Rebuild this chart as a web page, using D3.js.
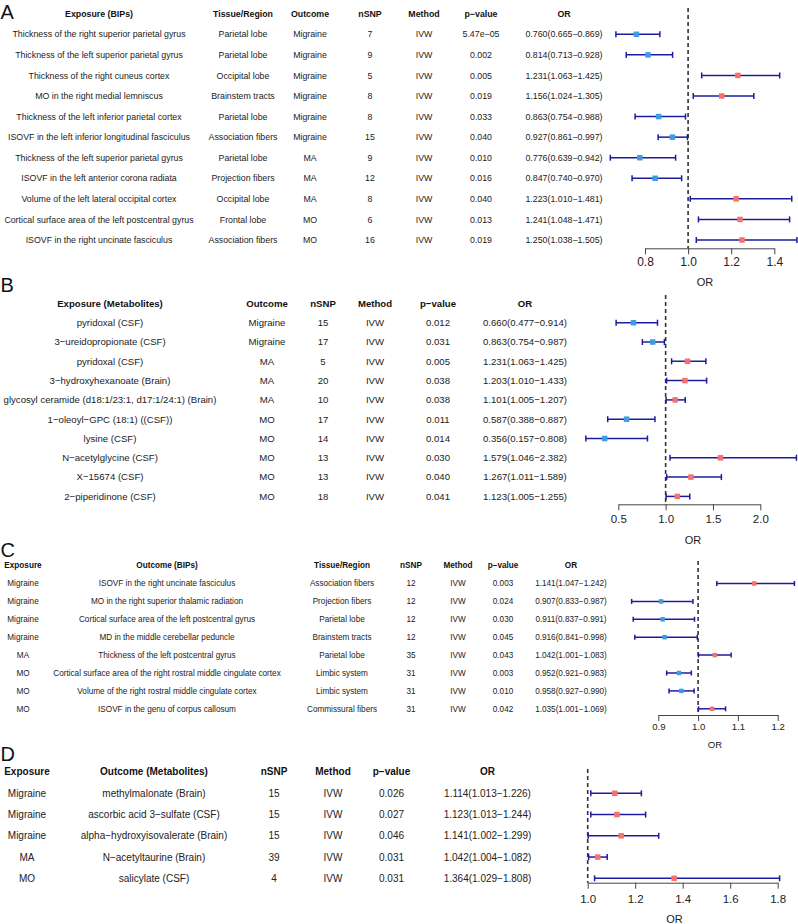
<!DOCTYPE html>
<html>
<head>
<meta charset="utf-8">
<script src="https://cdn.jsdelivr.net/npm/d3@7"></script>
<style>
  html, body { margin: 0; padding: 0; background: #fff; }
  svg { display: block; }
</style>
</head>
<body>
<svg id="chart" width="798" height="924"></svg>
<script>
// ---- Panel A: BIPs -> migraine ----
const aExposure = [
  "Thickness of the right superior parietal gyrus",
  "Thickness of the left superior parietal gyrus",
  "Thickness of the right cuneus cortex",
  "MO in the right medial lemniscus",
  "Thickness of the left inferior parietal cortex",
  "ISOVF in the left inferior longitudinal fasciculus",
  "Thickness of the left superior parietal gyrus",
  "ISOVF in the left anterior corona radiata",
  "Volume of the left lateral occipital cortex",
  "Cortical surface area of the left postcentral gyrus",
  "ISOVF in the right uncinate fasciculus"
];
const aTissue = ["Parietal lobe", "Parietal lobe", "Occipital lobe", "Brainstem tracts", "Parietal lobe",
  "Association fibers", "Parietal lobe", "Projection fibers", "Occipital lobe", "Frontal lobe", "Association fibers"];
const aOutcome = ["Migraine", "Migraine", "Migraine", "Migraine", "Migraine", "Migraine", "MA", "MA", "MA", "MO", "MO"];
const aNsnp = [7, 9, 5, 8, 8, 15, 9, 12, 8, 6, 16];
const aPval = ["5.47e−05", "0.002", "0.005", "0.019", "0.033", "0.040", "0.010", "0.016", "0.040", "0.013", "0.019"];
const aOR = [0.760, 0.814, 1.231, 1.156, 0.863, 0.927, 0.776, 0.847, 1.223, 1.241, 1.250];
const aLo = [0.665, 0.713, 1.063, 1.024, 0.754, 0.861, 0.639, 0.740, 1.010, 1.048, 1.038];
const aHi = [0.869, 0.928, 1.425, 1.305, 0.988, 0.997, 0.942, 0.970, 1.481, 1.471, 1.505];
const aTicks = [0.8, 1.0, 1.2, 1.4];

// ---- Panel B: metabolites -> migraine ----
const bExposure = [
  "pyridoxal (CSF)",
  "3−ureidopropionate (CSF)",
  "pyridoxal (CSF)",
  "3−hydroxyhexanoate (Brain)",
  "glycosyl ceramide (d18:1/23:1, d17:1/24:1) (Brain)",
  "1−oleoyl−GPC (18:1) ((CSF))",
  "lysine (CSF)",
  "N−acetylglycine (CSF)",
  "X−15674 (CSF)",
  "2−piperidinone (CSF)"
];
const bOutcome = ["Migraine", "Migraine", "MA", "MA", "MA", "MO", "MO", "MO", "MO", "MO"];
const bNsnp = [15, 17, 5, 20, 10, 17, 14, 13, 13, 18];
const bPval = ["0.012", "0.031", "0.005", "0.038", "0.038", "0.011", "0.014", "0.030", "0.040", "0.041"];
const bOR = [0.660, 0.863, 1.231, 1.203, 1.101, 0.587, 0.356, 1.579, 1.267, 1.123];
const bLo = [0.477, 0.754, 1.063, 1.010, 1.005, 0.388, 0.157, 1.046, 1.011, 1.005];
const bHi = [0.914, 0.987, 1.425, 1.433, 1.207, 0.887, 0.808, 2.382, 1.589, 1.255];
const bTicks = [0.5, 1.0, 1.5, 2.0];

// ---- Panel C: migraine -> BIPs ----
const cExposure = ["Migraine", "Migraine", "Migraine", "Migraine", "MA", "MO", "MO", "MO"];
const cOutcome = [
  "ISOVF in the right uncinate fasciculus",
  "MO in the right superior thalamic radiation",
  "Cortical surface area of the left postcentral gyrus",
  "MD in the middle cerebellar peduncle",
  "Thickness of the left postcentral gyrus",
  "Cortical surface area of the right rostral middle cingulate cortex",
  "Volume of the right rostral middle cingulate cortex",
  "ISOVF in the genu of corpus callosum"
];
const cTissue = ["Association fibers", "Projection fibers", "Parietal lobe", "Brainstem tracts",
  "Parietal lobe", "Limbic system", "Limbic system", "Commissural fibers"];
const cNsnp = [12, 12, 12, 12, 35, 31, 31, 31];
const cPval = ["0.003", "0.024", "0.030", "0.045", "0.043", "0.003", "0.010", "0.042"];
const cOR = [1.141, 0.907, 0.911, 0.916, 1.042, 0.952, 0.958, 1.035];
const cLo = [1.047, 0.833, 0.837, 0.841, 1.001, 0.921, 0.927, 1.001];
const cHi = [1.242, 0.987, 0.991, 0.998, 1.083, 0.983, 0.990, 1.069];
const cTicks = [0.9, 1.0, 1.1, 1.2];

// ---- Panel D: migraine -> metabolites ----
const dExposure = ["Migraine", "Migraine", "Migraine", "MA", "MO"];
const dOutcome = [
  "methylmalonate (Brain)",
  "ascorbic acid 3−sulfate (CSF)",
  "alpha−hydroxyisovalerate (Brain)",
  "N−acetyltaurine (Brain)",
  "salicylate (CSF)"
];
const dNsnp = [15, 15, 15, 39, 4];
const dPval = ["0.026", "0.027", "0.046", "0.031", "0.031"];
const dOR = [1.114, 1.123, 1.141, 1.042, 1.364];
const dLo = [1.013, 1.013, 1.002, 1.004, 1.029];
const dHi = [1.226, 1.244, 1.299, 1.082, 1.808];
const dTicks = [1.0, 1.2, 1.4, 1.6, 1.8];

const FONT = "'Liberation Sans', Arial, Helvetica, sans-serif";
const BLUE = "#3f9ce0";
const RED = "#f7716c";
const BAR = "#1c1ca0";

const svg = d3.select("#chart");

const orText = (or, lo, hi) => or.map((v, i) =>
  `${v.toFixed(3)}(${lo[i].toFixed(3)}−${hi[i].toFixed(3)})`);
const ivw = (n) => d3.range(n).map(() => "IVW");

/**
 * Draw one forest panel: table columns + CI bars + axis
 */
const drawPanel = (p) => {
  const g = svg.append("g").attr("font-family", FONT);
  const rowY = (i) => p.row0 + i * p.step;

  // panel letter
  g.append("text")
    .attr("x", 0.5)
    .attr("y", p.letterY)
    .attr("font-size", 20)
    .attr("fill", "#111")
    .text(p.letter);

  // table columns
  p.columns.forEach((col) => {
    g.append("text")
      .attr("x", col.x)
      .attr("y", p.header)
      .attr("dy", "0.35em")
      .attr("text-anchor", "middle")
      .attr("font-size", p.fs)
      .attr("font-weight", "bold")
      .attr("fill", "#111")
      .text(col.title);

    g.selectAll(null)
      .data(col.values)
      .join("text")
      .attr("x", col.x)
      .attr("y", (d, i) => rowY(i))
      .attr("dy", "0.35em")
      .attr("text-anchor", "middle")
      .attr("font-size", p.fs)
      .attr("fill", "#222")
      .text((d) => d);
  });

  // forest
  const x = d3.scaleLinear().domain(p.domain).range(p.range);

  g.append("line")
    .attr("x1", x(1)).attr("x2", x(1))
    .attr("y1", p.dashTop).attr("y2", p.axisY)
    .attr("stroke", "#333")
    .attr("stroke-width", 1.6)
    .attr("stroke-dasharray", "4,3");

  const rows = g.selectAll("g.ci")
    .data(p.or)
    .join("g")
    .attr("class", "ci")
    .attr("transform", (d, i) => `translate(0,${rowY(i)})`);

  rows.append("line")
    .attr("x1", (d, i) => x(p.lo[i]))
    .attr("x2", (d, i) => x(p.hi[i]))
    .attr("stroke", BAR)
    .attr("stroke-width", 1.5);

  ["lo", "hi"].forEach((k) => {
    rows.append("line")
      .attr("x1", (d, i) => x(p[k][i]))
      .attr("x2", (d, i) => x(p[k][i]))
      .attr("y1", -p.cap).attr("y2", p.cap)
      .attr("stroke", BAR)
      .attr("stroke-width", 1.5);
  });

  rows.append("rect")
    .attr("x", (d) => x(d) - p.box / 2)
    .attr("y", -p.box / 2)
    .attr("width", p.box)
    .attr("height", p.box)
    .attr("fill", (d) => (d < 1 ? BLUE : RED));

  // axis
  const axis = g.append("g")
    .attr("transform", `translate(0,${p.axisY})`)
    .call(d3.axisBottom(x)
      .tickValues(p.ticks)
      .tickFormat(d3.format(".1f"))
      .tickSize(6)
      .tickSizeOuter(0)
      .tickPadding(p.tickPad));

  axis.select(".domain").attr("stroke", "#444");
  axis.selectAll(".tick line").attr("stroke", "#444");
  axis.selectAll(".tick text")
    .attr("font-family", FONT)
    .attr("font-size", p.tickFs)
    .attr("fill", "#222");

  g.append("text")
    .attr("x", p.xlabX)
    .attr("y", p.xlabY)
    .attr("dy", "0.35em")
    .attr("text-anchor", "middle")
    .attr("font-size", p.xlabFs)
    .attr("fill", "#222")
    .text("OR");
};

drawPanel({
  letter: "A", letterY: 18.5, fs: 8.8,
  header: 14, row0: 34.3, step: 20.57,
  columns: [
    { title: "Exposure (BIPs)", values: aExposure, x: 99 },
    { title: "Tissue/Region", values: aTissue, x: 243 },
    { title: "Outcome", values: aOutcome, x: 310 },
    { title: "nSNP", values: aNsnp, x: 370 },
    { title: "Method", values: ivw(aOR.length), x: 424 },
    { title: "p−value", values: aPval, x: 481 },
    { title: "OR", values: orText(aOR, aLo, aHi), x: 564 }
  ],
  or: aOR, lo: aLo, hi: aHi, ticks: aTicks,
  domain: [0.8, 1.4], range: [645, 774.3],
  dashTop: 8, axisY: 248.3, tickPad: 3.3, tickFs: 12,
  xlabX: 705, xlabY: 281.7, xlabFs: 11,
  box: 5.5, cap: 3
});

drawPanel({
  letter: "B", letterY: 292, fs: 9.6,
  header: 303.3, row0: 322.7, step: 19.3,
  columns: [
    { title: "Exposure (Metabolites)", values: bExposure, x: 110 },
    { title: "Outcome", values: bOutcome, x: 267 },
    { title: "nSNP", values: bNsnp, x: 323 },
    { title: "Method", values: ivw(bOR.length), x: 375 },
    { title: "p−value", values: bPval, x: 438 },
    { title: "OR", values: orText(bOR, bLo, bHi), x: 525 }
  ],
  or: bOR, lo: bLo, hi: bHi, ticks: bTicks,
  domain: [0.5, 2.0], range: [618.3, 760.3],
  dashTop: 295, axisY: 504.3, tickPad: 5, tickFs: 11.5,
  xlabX: 693, xlabY: 540, xlabFs: 11,
  box: 5.5, cap: 3
});

drawPanel({
  letter: "C", letterY: 557, fs: 8.2,
  header: 565, row0: 583.5, step: 17.9,
  columns: [
    { title: "Exposure", values: cExposure, x: 23 },
    { title: "Outcome (BIPs)", values: cOutcome, x: 167 },
    { title: "Tissue/Region", values: cTissue, x: 342 },
    { title: "nSNP", values: cNsnp, x: 411 },
    { title: "Method", values: ivw(cOR.length), x: 458 },
    { title: "p−value", values: cPval, x: 503 },
    { title: "OR", values: orText(cOR, cLo, cHi), x: 571 }
  ],
  or: cOR, lo: cLo, hi: cHi, ticks: cTicks,
  domain: [0.9, 1.2], range: [658.3, 777.7],
  dashTop: 561, axisY: 715, tickPad: 2.3, tickFs: 9.6,
  xlabX: 715, xlabY: 744.3, xlabFs: 9.6,
  box: 4.5, cap: 2.5
});

drawPanel({
  letter: "D", letterY: 761, fs: 10,
  header: 771.7, row0: 793.3, step: 21.25,
  columns: [
    { title: "Exposure", values: dExposure, x: 27 },
    { title: "Outcome (Metabolites)", values: dOutcome, x: 154 },
    { title: "nSNP", values: dNsnp, x: 274 },
    { title: "Method", values: ivw(dOR.length), x: 333 },
    { title: "p−value", values: dPval, x: 391.5 },
    { title: "OR", values: orText(dOR, dLo, dHi), x: 487.5 }
  ],
  or: dOR, lo: dLo, hi: dHi, ticks: dTicks,
  domain: [1.0, 1.8], range: [587.7, 777.7],
  dashTop: 769, axisY: 882.7, tickPad: 6.2, tickFs: 11.5,
  xlabX: 674.5, xlabY: 919, xlabFs: 11,
  box: 5.5, cap: 3
});
</script>
</body>
</html>
